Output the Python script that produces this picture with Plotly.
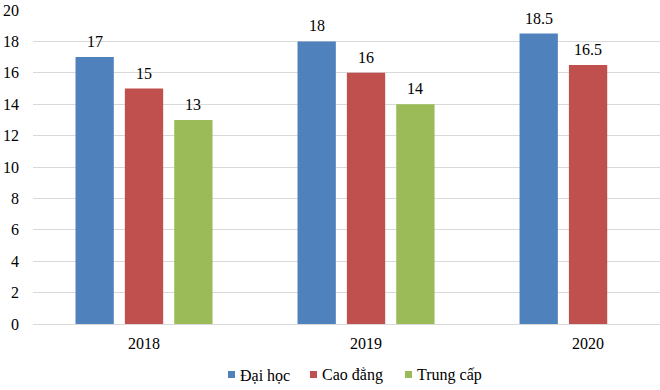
import plotly.graph_objects as go

years = ["2018", "2019", "2020"]
series_names = ["Đại học", "Cao đẳng", "Trung cấp"]
dai_hoc = [17, 18, 18.5]
cao_dang = [15, 16, 16.5]
trung_cap = [13, 14, None]
y_ticks = [0, 2, 4, 6, 8, 10, 12, 14, 16, 18, 20]

colors = ["#4F81BD", "#C0504D", "#9BBB59"]
font_family = "Liberation Serif"
FS = 16

FIG_W, FIG_H = 660, 390
L, R, T, B = 33, 660, 10, 324
W, H = R - L, B - T
bargap = 0.333
bargroupgap = 0.224

fig = go.Figure()
all_series = [dai_hoc, cao_dang, trung_cap]
for name, vals, col in zip(series_names, all_series, colors):
    fig.add_trace(go.Bar(x=years, y=vals, name=name, marker_color=col,
                         marker_line_width=0, showlegend=False, hoverinfo="skip"))

# data labels above bars
slot = (1 - bargap) / len(all_series)
annotations = []
for si, vals in enumerate(all_series):
    for ci, v in enumerate(vals):
        if v is None:
            continue
        annotations.append(dict(
            x=ci + (si - (len(all_series) - 1) / 2) * slot, y=v,
            xref="x", yref="y", text=f"{v:g}", showarrow=False,
            yanchor="bottom", xanchor="center", yshift=5,
            font=dict(family=font_family, size=FS, color="#000000")))

# custom legend (small squares + labels)
legend_sq_left = [228, 310, 405]
legend_txt_left = [238, 320, 415]
shapes = []
for name, col, sx, tx in zip(series_names, colors, legend_sq_left, legend_txt_left):
    shapes.append(dict(type="rect", xref="paper", yref="paper",
                       x0=(sx - L) / W, x1=(sx + 7 - L) / W,
                       y0=(B - 378) / H, y1=(B - 371) / H,
                       fillcolor=col, line_width=0))
    annotations.append(dict(x=(tx - L) / W, y=(B - 375) / H,
                            xref="paper", yref="paper",
                            text=name, showarrow=False, xanchor="left", yanchor="middle",
                            font=dict(family=font_family, size=FS, color="#000000")))

fig.update_layout(
    width=FIG_W, height=FIG_H,
    margin=dict(l=L, r=FIG_W - R, t=T, b=FIG_H - B, autoexpand=False),
    barmode="group", bargap=bargap, bargroupgap=bargroupgap,
    plot_bgcolor="white", paper_bgcolor="white",
    font=dict(family=font_family, size=FS, color="#000000"),
    showlegend=False,
    annotations=annotations, shapes=shapes,
)
fig.update_xaxes(range=[-0.5, 2.324], showgrid=False, showline=True, automargin=False,
                 linecolor="#D9D9D9", linewidth=1, ticks="", ticklabelstandoff=5,
                 tickfont=dict(family=font_family, size=FS, color="#000000"))
fig.update_yaxes(range=[0, 20], tickvals=y_ticks, showgrid=True, gridcolor="#D9D9D9",
                 gridwidth=1, zeroline=False, showline=False, ticks="", automargin=False,
                 ticklabelstandoff=13,
                 tickfont=dict(family=font_family, size=FS, color="#000000"))

fig.write_html("out.html",
               config={"displayModeBar": False},
               post_script="document.body.style.margin='0px';document.body.style.overflow='hidden';")
